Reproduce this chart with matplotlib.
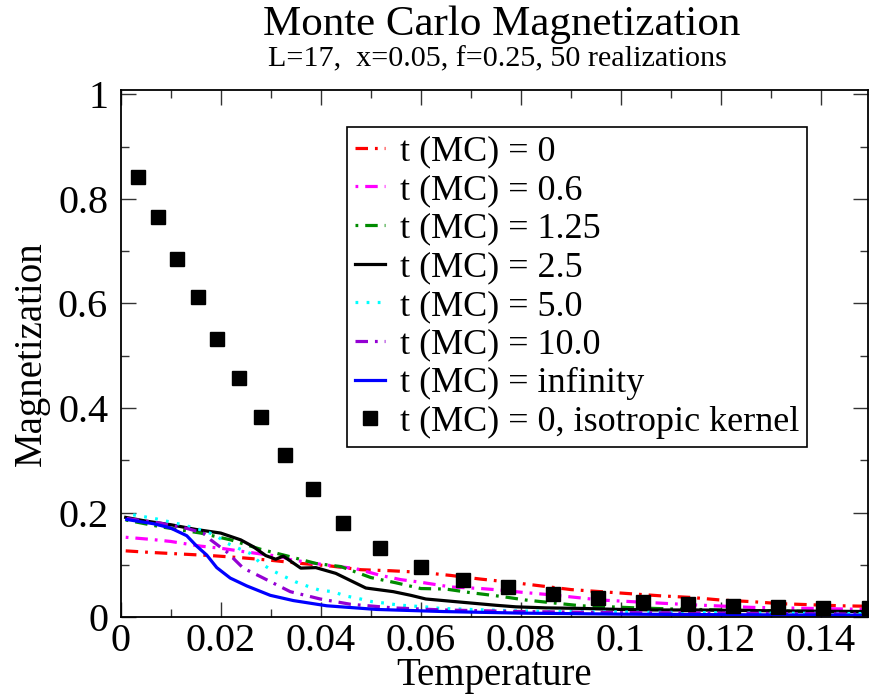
import matplotlib
matplotlib.use("Agg")
import matplotlib.pyplot as plt
from matplotlib.ticker import MultipleLocator

# t (MC) = 0
t0_T = [0.001, 0.006, 0.012, 0.018, 0.024, 0.030, 0.036, 0.042, 0.048, 0.054, 0.060,
        0.066, 0.072, 0.078, 0.084, 0.090, 0.096, 0.102, 0.108, 0.114, 0.120, 0.126,
        0.132, 0.138, 0.144, 0.150]
t0_M = [0.127, 0.124, 0.121, 0.118, 0.114, 0.109, 0.103, 0.098, 0.091, 0.089, 0.086,
        0.080, 0.073, 0.067, 0.060, 0.053, 0.049, 0.045, 0.041, 0.038, 0.033, 0.030,
        0.026, 0.024, 0.022, 0.021]

# t (MC) = 0.6
t06_T = [0.001, 0.006, 0.010, 0.016, 0.020, 0.025, 0.032, 0.034, 0.041, 0.047, 0.052,
         0.056, 0.060, 0.066, 0.072, 0.076, 0.080, 0.086, 0.092, 0.096, 0.106, 0.114,
         0.126, 0.138, 0.150]
t06_M = [0.153, 0.149, 0.145, 0.136, 0.132, 0.125, 0.116, 0.110, 0.100, 0.093, 0.080,
         0.072, 0.067, 0.058, 0.055, 0.052, 0.048, 0.043, 0.037, 0.033, 0.028, 0.024,
         0.019, 0.017, 0.015]

# t (MC) = 1.25
t125_T = [0.001, 0.008, 0.016, 0.022, 0.028, 0.033, 0.039, 0.044, 0.050, 0.055, 0.060,
          0.065, 0.070, 0.076, 0.081, 0.087, 0.092, 0.098, 0.103, 0.110, 0.115, 0.126,
          0.138, 0.150]
t125_M = [0.186, 0.173, 0.161, 0.148, 0.130, 0.118, 0.103, 0.097, 0.076, 0.066, 0.055,
          0.054, 0.047, 0.040, 0.033, 0.027, 0.022, 0.020, 0.018, 0.016, 0.015, 0.013,
          0.011, 0.010]

# t (MC) = 2.5
t25_T = [0.001, 0.005, 0.010, 0.015, 0.020, 0.024, 0.0265, 0.029, 0.031, 0.0325, 0.036,
         0.039, 0.043, 0.046, 0.049, 0.0545, 0.058, 0.061, 0.068, 0.075, 0.079, 0.085,
         0.092, 0.100, 0.107, 0.115, 0.125, 0.135, 0.150]
t25_M = [0.191, 0.184, 0.177, 0.168, 0.161, 0.148, 0.135, 0.118, 0.111, 0.117, 0.094,
         0.095, 0.084, 0.070, 0.056, 0.049, 0.042, 0.035, 0.029, 0.023, 0.020, 0.018,
         0.017, 0.015, 0.014, 0.014, 0.013, 0.012, 0.011]

# t (MC) = 5.0
t5_T = [0.0025, 0.0072, 0.0119, 0.0165, 0.0189, 0.0212, 0.0235, 0.0259, 0.0279, 0.0302,
        0.0325, 0.0349, 0.0372, 0.0397, 0.0424, 0.0449, 0.0475, 0.0502, 0.0529, 0.0555,
        0.0582, 0.0609, 0.0639, 0.070, 0.080, 0.090, 0.100, 0.115, 0.130, 0.150]
t5_M = [0.196, 0.188, 0.178, 0.166, 0.157, 0.142, 0.132, 0.122, 0.104, 0.090,
        0.079, 0.068, 0.060, 0.052, 0.049, 0.041, 0.036, 0.030, 0.027, 0.0235,
        0.0216, 0.020, 0.017, 0.015, 0.012, 0.011, 0.010, 0.009, 0.008, 0.007]

# t (MC) = 10.0
t10_T = [0.0012, 0.0079, 0.0132, 0.0165, 0.018, 0.0212, 0.0245, 0.0279, 0.0339, 0.0399,
         0.0459, 0.0545, 0.0645, 0.080, 0.100, 0.120, 0.150]
t10_M = [0.189, 0.180, 0.170, 0.161, 0.148, 0.125, 0.094, 0.078, 0.049, 0.035,
         0.025, 0.018, 0.014, 0.011, 0.009, 0.008, 0.006]

# t (MC) = infinity
tinf_T = [0.0012, 0.0065, 0.0099, 0.0132, 0.0152, 0.0172, 0.0192, 0.0219, 0.0252, 0.0299,
          0.0345, 0.0412, 0.0512, 0.0645, 0.080, 0.100, 0.120, 0.150]
tinf_M = [0.187, 0.179, 0.171, 0.156, 0.136, 0.119, 0.095, 0.075, 0.060, 0.042,
          0.032, 0.022, 0.015, 0.011, 0.008, 0.006, 0.005, 0.004]

# t (MC) = 0, isotropic kernel
iso_T = [0.0035, 0.0075, 0.0112, 0.0155, 0.0193, 0.0237, 0.0280, 0.0328, 0.0385, 0.0445,
         0.0519, 0.0600, 0.0685, 0.0775, 0.0864, 0.0955, 0.1045, 0.1135, 0.1225, 0.1315,
         0.1405, 0.1495]
iso_M = [0.842, 0.765, 0.685, 0.612, 0.532, 0.457, 0.382, 0.310, 0.245, 0.180,
         0.132, 0.097, 0.072, 0.058, 0.044, 0.037, 0.030, 0.025, 0.022, 0.019,
         0.017, 0.017]

plt.rcParams.update({
    "font.family": ["Liberation Serif", "DejaVu Serif"],
    "lines.scale_dashes": False,
})

W, H = 869, 696
fig = plt.figure(figsize=(W / 100, H / 100), dpi=100)
ax = fig.add_axes([120.7 / W, 1 - 617.3 / H, 747.3 / W, (617.3 - 89.5) / H])

lw = 2.3
ax.plot(t0_T, t0_M, color="#ff0000", lw=lw, ls=(0, (9, 5, 2, 5)), label="t (MC) = 0")
ax.plot(t06_T, t06_M, color="#ff00ff", lw=lw, ls=(0, (2, 5, 9, 5)), label="t (MC) = 0.6")
ax.plot(t125_T, t125_M, color="#008b00", lw=lw, ls=(0, (2, 5, 9, 5)), label="t (MC) = 1.25")
ax.plot(t25_T, t25_M, color="black", lw=lw, label="t (MC) = 2.5")
ax.plot(t5_T, t5_M, color="#00ffff", lw=lw, ls=(0, (2, 6)), label="t (MC) = 5.0")
ax.plot(t10_T, t10_M, color="#9400d3", lw=lw, ls=(0, (9, 5, 2, 5)), label="t (MC) = 10.0")
ax.plot(tinf_T, tinf_M, color="#0000ff", lw=lw, label="t (MC) = infinity")
ax.plot(iso_T, iso_M, ls="none", marker="s", ms=9.5, color="black",
        label="t (MC) = 0, isotropic kernel", zorder=5)

ax.set_xlim(0, 0.1494)
ax.set_ylim(0, 1.009)
ax.xaxis.set_minor_locator(MultipleLocator(0.01))
ax.yaxis.set_minor_locator(MultipleLocator(0.1))
ax.set_xticks([0, 0.02, 0.04, 0.06, 0.08, 0.1, 0.12, 0.14])
ax.set_xticklabels(["0", "0.02", "0.04", "0.06", "0.08", "0.1", "0.12", "0.14"])
ax.set_yticks([0, 0.2, 0.4, 0.6, 0.8, 1.0])
ax.set_yticklabels(["0", "0.2", "0.4", "0.6", "0.8", "1"])
ax.tick_params(which="both", direction="in", top=True, right=True, labelsize=29,
               width=1.0, color="#333333")
ax.tick_params(which="major", length=10.5)
ax.tick_params(which="minor", length=5.5)
ax.tick_params(axis="x", pad=4)
ax.tick_params(axis="y", pad=9)
for s in ax.spines.values():
    s.set_linewidth(1.3)

ax.set_xlabel("Temperature", fontsize=28, labelpad=-2)
ax.set_ylabel("Magnetization", fontsize=28, labelpad=6)

fig.text(0.577, 1 - 35 / H, "Monte Carlo Magnetization", fontsize=31,
         ha="center", va="baseline")
fig.text(0.573, 1 - 66 / H, "L=17,  x=0.05, f=0.25, 50 realizations", fontsize=21.7,
         ha="center", va="baseline")

leg = ax.legend(loc="upper left", bbox_to_anchor=(347 / W, 1 - 127 / H),
                bbox_transform=fig.transFigure, borderaxespad=0, fontsize=26,
                handlelength=0.83, handletextpad=0.42, borderpad=0.22,
                labelspacing=0.15, numpoints=1, fancybox=False, framealpha=1)
leg.get_frame().set_edgecolor("black")
leg.get_frame().set_linewidth(1.2)

fig.savefig("out.png", dpi=100)
